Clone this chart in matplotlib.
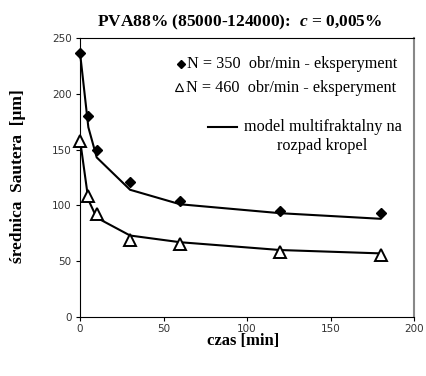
import matplotlib
matplotlib.use("Agg")
import matplotlib.pyplot as plt
from matplotlib.lines import Line2D

# data
t_exp = [0, 5, 10, 30, 60, 120, 180]
d350_exp = [237, 180, 150, 121, 104, 95, 93]
d460_exp = [158, 108, 92, 69, 65, 58, 56]
t_mod = [0, 5, 10, 30, 60, 120, 180]
d350_mod = [237, 170, 143, 114, 101, 93, 88]
d460_mod = [159, 105, 89, 73, 67, 60, 57]

xticks = [0, 50, 100, 150, 200]
yticks = [0, 50, 100, 150, 200, 250]

plt.rcParams['mathtext.fontset'] = 'custom'
plt.rcParams['mathtext.rm'] = 'Liberation Serif:bold'
plt.rcParams['mathtext.it'] = 'Liberation Serif:bold:italic'
plt.rcParams['mathtext.bf'] = 'Liberation Serif:bold'

W, H = 426, 376
fig = plt.figure(figsize=(W / 100, H / 100), dpi=100)
ax = fig.add_axes([80 / W, 1 - 317 / H, 334 / W, 279 / H])

ax.plot(t_mod, d350_mod, color='black', lw=1.5, zorder=2, clip_on=False)
ax.plot(t_mod, d460_mod, color='black', lw=1.5, zorder=2, clip_on=False)
ax.plot(t_exp, d350_exp, linestyle='none', marker='D', ms=5.5, color='black', zorder=3, clip_on=False)
ax.plot(t_exp, d460_exp, linestyle='none', marker='^', ms=8, mfc='white', mec='black', mew=1.4,
        zorder=3, clip_on=False)

ax.set_xlim(0, 200)
ax.set_ylim(0, 250)
ax.set_xticks(xticks)
ax.set_yticks(yticks)
ax.tick_params(direction='out', length=3, width=0.8, labelsize=7.5, labelcolor='#333333', colors='black')
ax.tick_params(axis='x', pad=2)
ax.tick_params(axis='y', pad=3)
for lab in ax.get_xticklabels() + ax.get_yticklabels():
    lab.set_family('DejaVu Sans')
    lab.set_color('#333333')
ax.spines['right'].set_color('#888888')
ax.spines['right'].set_linewidth(1.5)
for s in ['left', 'bottom', 'top']:
    ax.spines[s].set_color('black')
    ax.spines[s].set_linewidth(0.8)

serif = 'Liberation Serif'
fig.text(240 / W, 1 - 22 / H, r"PVA88% (85000-124000):  $c$ = 0,005%",
         ha='center', va='center', family=serif, fontweight='bold', fontsize=12.5)
fig.text(243 / W, 1 - 341 / H, "czas [min]", ha='center', va='center',
         family=serif, fontweight='bold', fontsize=12)
fig.text(18 / W, 1 - 176 / H, "średnica  Sautera  [μm]", ha='center', va='center',
         rotation=90, family=serif, fontweight='bold', fontsize=12.5)

# legend (manual)
def fx(px):
    return (px - 80) / 334

def fy(py):
    return (317 - py) / 279

ax.plot([fx(181)], [fy(64)], transform=ax.transAxes, marker='D', ms=4.5, color='black', clip_on=False)
ax.text(fx(187), fy(64), "N = 350  obr/min - eksperyment", transform=ax.transAxes,
        ha='left', va='center', family=serif, fontsize=11.7)
ax.plot([fx(179)], [fy(87)], transform=ax.transAxes, marker='^', ms=6, mfc='white', mec='black', mew=0.8,
        clip_on=False)
ax.text(fx(186), fy(88), "N = 460  obr/min - eksperyment", transform=ax.transAxes,
        ha='left', va='center', family=serif, fontsize=11.7)
ax.add_line(Line2D([fx(208), fx(237)], [fy(127), fy(127)], transform=ax.transAxes, color='black', lw=1.5))
ax.text(fx(323), fy(127), "model multifraktalny na", transform=ax.transAxes,
        ha='center', va='center', family=serif, fontsize=11.7)
ax.text(fx(322), fy(146), "rozpad kropel", transform=ax.transAxes,
        ha='center', va='center', family=serif, fontsize=11.7)

fig.savefig("out.png", dpi=100)
